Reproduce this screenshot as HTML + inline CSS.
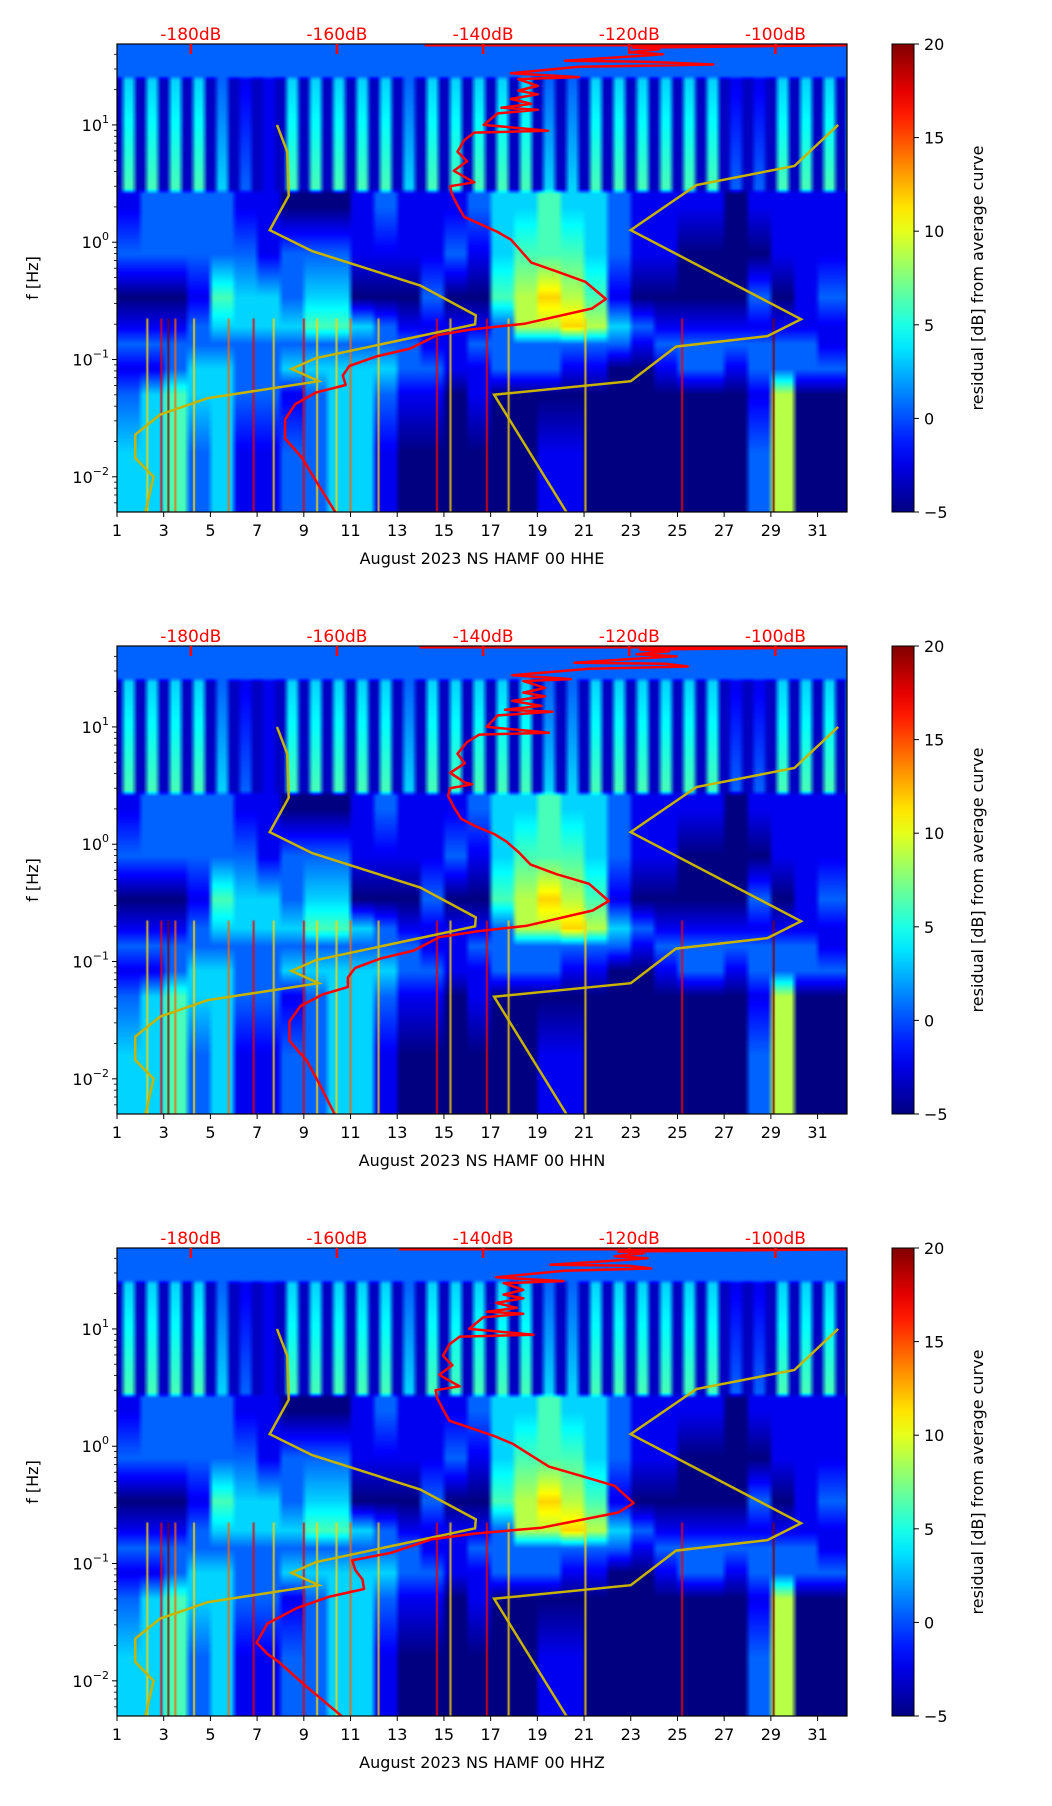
<!DOCTYPE html>
<html><head><meta charset="utf-8"><style>
body{margin:0;background:#fff;}
#fig{position:relative;width:1052px;height:1806px;overflow:hidden;background:#fff;font-family:"DejaVu Sans","Liberation Sans",sans-serif;}
canvas{position:absolute;}
svg{position:absolute;left:0;top:0;}
</style></head><body>
<div id="fig">
<canvas id="c0" width="730" height="468" style="left:117px;top:44px"></canvas>
<canvas id="c1" width="730" height="468" style="left:117px;top:646px"></canvas>
<canvas id="c2" width="730" height="468" style="left:117px;top:1248px"></canvas>
<svg id="ov" width="1052" height="1806"></svg>
</div>
<script>
// ---------- data ----------
const panelNames = ["HHE","HHN","HHZ"];
const xTicks = [1,3,5,7,9,11,13,15,17,19,21,23,25,27,29,31];
const yDecades = [1,0,-1,-2];
const dbTicks = [-180,-160,-140,-120,-100];
const cbTicks = [20,15,10,5,0,-5];
// heatmap anchors (log10 f) and per-day level digits 0..9 (-5..20 dB)
const rowLogf = [1.69,1.42,1.38,0.46,0.41,0.30,-0.10,-0.47,-0.72,-0.87,-1.08,-1.30,-1.80,-2.31];
const rowDiurnal = [0,0,1,1,0,0,0,0,0,0,0,0,0,0];
const rowVals = [
"2222222222222222222222222222222",
"2222222222222222222222222222222",
"3333211333332333332233333311333",
"4444321444443444443344444422444",
"1222211000121112334332111101111",
"1222211000121112334332111101111",
"2222221222111121344432110000111",
"0001433233000200456541000002012",
"1112333344321111255653211111111",
"2222222222222112222222122222221",
"1123322333332211222110012212222",
"2343322123321101000000000001500",
"3342311223310000001100000002500",
"3342311223310000001100000002500"];
const diurnalProfile = [0,1,1,0];
const streakDay = [2.3,2.9,3.2,3.5,5.78,6.85,7.71,9.0,9.57,11.0,14.7,15.28,16.84,17.77,21.06,25.2,29.12,4.3,10.4,12.2];
const streakVal = [6,8,9,7,7,8,6,8,6,7,8,6,8,6,6,8,9,6,6,6];
// noise models (log10 f, dB)
const nlnmLogf = [1,0.77,0.397,0.103,-0.076,-0.369,-0.624,-0.70,-0.989,-1.08,-1.185,-1.33,-1.47,-1.64,-1.84,-2.0,-2.30];
const nlnmDb = [-168.2,-166.8,-166.6,-169.2,-163.4,-148.6,-141.0,-141.1,-162.9,-166.2,-162.5,-177.7,-184.2,-187.6,-187.6,-185.1,-186.2];
const nhnmLogf = [1,0.65,0.488,0.103,-0.656,-0.80,-0.89,-1.185,-1.30,-2.30];
const nhnmDb = [-91.4,-97.4,-110.8,-119.8,-96.5,-101.1,-113.6,-119.8,-138.5,-128.6];
// average PSD curves
const redLogf = [1.68,1.68,1.659,1.646,1.620,1.603,1.580,1.548,1.538,1.515,1.496,1.440,1.408,1.391,1.333,1.293,1.261,1.222,1.179,1.147,1.130,1.098,1.0,0.951,0.935,0.870,0.772,0.690,0.609,0.527,0.511,0.478,0.413,0.315,0.217,0.152,0.087,0.022,-0.076,-0.174,-0.255,-0.337,-0.484,-0.565,-0.695,-0.744,-0.793,-0.907,-0.973,-1.054,-1.136,-1.217,-1.282,-1.380,-1.511,-1.674,-1.771,-1.837,-2.032,-2.303];
const redDbHHE = [-148,-90.2,-119.5,-115.9,-120,-115.4,-120.5,-128.8,-117.7,-108.5,-126.9,-136.2,-126.9,-135.2,-132.5,-135.2,-132.5,-136.2,-133.4,-137.5,-132.5,-138,-139.9,-131.1,-141.2,-142.6,-143.5,-142.2,-144,-141.7,-141.2,-144.5,-144.3,-143.5,-142.6,-140.3,-138,-136.2,-134.8,-133.4,-129.7,-126,-123.2,-125.1,-134.3,-141.7,-146.3,-150,-154.6,-158.3,-159.2,-158.8,-162.9,-165.7,-167.1,-167.1,-165.7,-164.8,-162.9,-160.2];
const redDbHHN = [-148.7,-90.2,-118.5,-114.5,-119,-113.5,-119.5,-127.5,-115,-112,-125.5,-136,-128,-134.5,-131.5,-134.5,-131.5,-136,-132,-137,-130.5,-138,-139.5,-131,-140.5,-142.2,-143.5,-142.5,-144.5,-142.5,-141.5,-144.5,-144.8,-144,-143,-141,-138.5,-136.8,-135,-133.5,-130,-125.5,-122.8,-125,-134,-141,-146,-149.5,-154,-157.5,-158.5,-158.5,-162,-165,-166.5,-166.5,-165.2,-164.2,-162.5,-160.3];
const redDbHHZ = [-151.5,-90.2,-121.5,-118,-122,-117.5,-122.5,-130.8,-120,-117,-128.9,-138.2,-129,-137.2,-134.5,-137.2,-134.5,-138.2,-135.4,-139.5,-134.5,-140,-141.9,-133.1,-143.2,-144.6,-145.5,-144.2,-146,-143.7,-143.2,-146.5,-146.3,-145.5,-144.6,-141.5,-138.5,-136,-133.5,-131,-126.5,-122,-119.4,-121.5,-132,-141,-147,-152.5,-157.9,-157.5,-156.5,-156.3,-161,-165.5,-169.5,-171,-169.5,-168,-164.5,-159.3];
const redDbs = [redDbHHE, redDbHHN, redDbHHZ];

// ---------- geometry ----------
const PL=117, PW=730, PH=468, panelTops=[44,646,1248];
const DAY0=1, DAY1=32.26, LF0=-2.30, LF1=1.69, DB0=-190.1, DB1=-90.2;
const xDay = d => PL + (d-DAY0)/(DAY1-DAY0)*PW;
const yLf = (lf,top) => top + (LF1-lf)/(LF1-LF0)*PH;
const xDb = db => PL + (db-DB0)/(DB1-DB0)*PW;

function jet(t){
  t=Math.max(0,Math.min(1,t));
  const c=v=>Math.round(255*Math.max(0,Math.min(1,v)));
  return [c(1.5-Math.abs(4*t-3)), c(1.5-Math.abs(4*t-2)), c(1.5-Math.abs(4*t-1))];
}
function rowValue(r,col){
  const day=Math.min(30,Math.floor(col/4)), q=col%4;
  const hi=+rowVals[r][day];
  if(!rowDiurnal[r]) return hi;
  const lo=0.6;
  return lo+(hi-lo)*diurnalProfile[q];
}
// heatmap
for(let p=0;p<3;p++){
  const cv=document.getElementById('c'+p), ctx=cv.getContext('2d');
  const W=128,H=400;
  const off=document.createElement('canvas'); off.width=W; off.height=H;
  const octx=off.getContext('2d'); const img=octx.createImageData(W,H);
  for(let j=0;j<H;j++){
    const lf=LF1-(j+0.5)/H*(LF1-LF0);
    let r=0; while(r<rowLogf.length-2 && lf<rowLogf[r+1]) r++;
    const a=rowLogf[r], b=rowLogf[r+1];
    const f=Math.max(0,Math.min(1,(a-lf)/(a-b)));
    for(let i=0;i<W;i++){
      const v=rowValue(r,i)*(1-f)+rowValue(r+1,i)*f;
      const c=jet(v/9); const k=(j*W+i)*4;
      img.data[k]=c[0];img.data[k+1]=c[1];img.data[k+2]=c[2];img.data[k+3]=255;
    }
  }
  octx.putImageData(img,0,0);
  ctx.imageSmoothingEnabled=true;
  const pxDay=PW/(DAY1-DAY0);
  ctx.drawImage(off,0,0,W,H,0,0,32*pxDay,PH);
  for(let s=0;s<streakDay.length;s++){
    const c=jet(streakVal[s]/9);
    ctx.strokeStyle=`rgba(${c[0]},${c[1]},${c[2]},0.85)`; ctx.lineWidth=2;
    const x=xDay(streakDay[s])-PL;
    ctx.beginPath(); ctx.moveTo(x,yLf(-0.65,0)); ctx.lineTo(x,PH); ctx.stroke();
  }
}

// ---------- SVG overlay ----------
const NS="http://www.w3.org/2000/svg", ov=document.getElementById('ov');
function el(tag,attrs,parent,txt){
  const e=document.createElementNS(NS,tag);
  for(const k in attrs) e.setAttribute(k,attrs[k]);
  if(txt!==undefined) e.textContent=txt;
  (parent||ov).appendChild(e); return e;
}
const defs=el('defs',{});
const lg=el('linearGradient',{id:'jetg',x1:0,y1:1,x2:0,y2:0},defs);
for(let i=0;i<=20;i++){const c=jet(i/20); el('stop',{offset:(i/20),'stop-color':`rgb(${c[0]},${c[1]},${c[2]})`},lg);}

function poly(lfs,dbs,top){return lfs.map((lf,i)=>xDb(dbs[i]).toFixed(1)+','+yLf(lf,top).toFixed(1)).join(' ');}

for(let p=0;p<3;p++){
  const top=panelTops[p], bot=top+PH;
  const g=el('g',{});
  
  
  const clipId='clip'+p;
  const cp=el('clipPath',{id:clipId},defs); el('rect',{x:PL,y:top,width:PW,height:PH},cp);
  const lines=el('g',{'clip-path':`url(#${clipId})`},g);
  const l1=el('polyline',{points:poly(nlnmLogf,nlnmDb,top),fill:'none',stroke:'#c8b400','stroke-width':2.5},lines);
   
  const l2=el('polyline',{points:poly(nhnmLogf,nhnmDb,top),fill:'none',stroke:'#c8b400','stroke-width':2.5},lines);
   
  const l3=el('polyline',{points:poly(redLogf,redDbs[p],top),fill:'none',stroke:'#ff0000','stroke-width':2.5,'stroke-linejoin':'round'},lines);
   
  el('rect',{x:PL,y:top,width:PW,height:PH,fill:'none',stroke:'#000','stroke-width':1.2},g);
  xTicks.forEach(d=>{
    const x=xDay(d);
    el('line',{x1:x,y1:bot,x2:x,y2:bot+5,stroke:'#000','stroke-width':1},g);
    const t=el('text',{x:x,y:bot+24,'font-size':16,'text-anchor':'middle'},g,String(d));
     
  });
  const xl=el('text',{x:PL+PW/2,y:bot+52,'font-size':16,'text-anchor':'middle'},g,'August 2023 NS HAMF 00 '+panelNames[p]);
   
  yDecades.forEach(dd=>{
    const y=yLf(dd,top);
    el('line',{x1:PL-5,y1:y,x2:PL,y2:y,stroke:'#000','stroke-width':1},g);
    const t=el('text',{x:PL-8,y:y+6,'font-size':16,'text-anchor':'end'},g);
     
    el('tspan',{},t,'10');
    el('tspan',{dy:-8,'font-size':11},t,dd<0?'\u2212'+(-dd):String(dd));
  });
  for(let dd=-3;dd<=1;dd++) for(let k=2;k<=9;k++){
    const lf=dd+Math.log10(k); if(lf<LF0||lf>LF1) continue;
    const y=yLf(lf,top);
    el('line',{x1:PL-3,y1:y,x2:PL,y2:y,stroke:'#000','stroke-width':0.8},g);
  }
  const yl=el('text',{x:0,y:0,'font-size':16,'text-anchor':'middle',transform:`translate(38,${top+PH/2}) rotate(-90)`},g,'f [Hz]');
   
  dbTicks.forEach(db=>{
    const x=xDb(db);
    el('line',{x1:x,y1:top,x2:x,y2:top+10,stroke:'#ff0000','stroke-width':2.5},g);
    const t=el('text',{x:x,y:top-4,'font-size':17,'text-anchor':'middle',fill:'#ff0000'},g,db+'dB');
     
  });
  const cx=892, cw=22;
  const cb=el('rect',{x:cx,y:top,width:cw,height:PH,fill:'url(#jetg)',stroke:'#000','stroke-width':1},g);
   
  cbTicks.forEach(v=>{
    const y=top+(20-v)/25*PH;
    el('line',{x1:cx+cw,y1:y,x2:cx+cw+5,y2:y,stroke:'#000','stroke-width':1},g);
    const t=el('text',{x:cx+cw+10,y:y+6,'font-size':16},g,v<0?'\u2212'+(-v):String(v));
     
  });
  const cl=el('text',{x:0,y:0,'font-size':16,'text-anchor':'middle',transform:`translate(983,${top+PH/2}) rotate(-90)`},g,'residual [dB] from average curve');
   
}
</script>
</body></html>
